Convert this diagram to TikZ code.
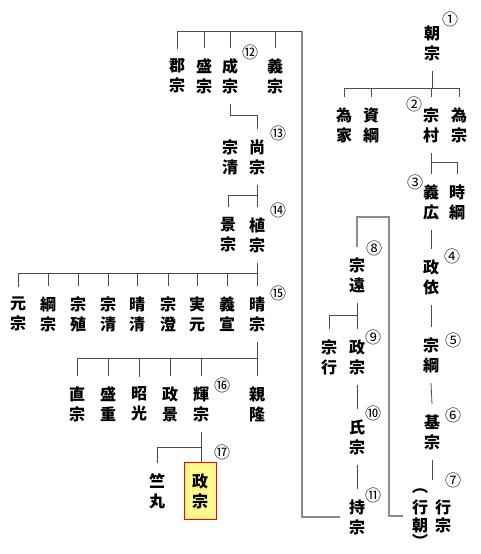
\documentclass[tikz,border=0pt]{standalone}
\usepackage{fontspec}
\newfontfamily\jpfont{Noto Sans CJK JP}

\tikzset{
  person/.style={font=\jpfont\bfseries\fontsize{16}{20}\selectfont, align=center, inner xsep=9pt, inner ysep=10pt},
  tight/.style={person, font=\jpfont\bfseries\fontsize{16}{18}\selectfont},
  num/.style={font=\jpfont\fontsize{16}{16}\selectfont, inner sep=0pt},
  link/.style={draw=black!70, line width=0.8pt},
  longlink/.style={draw=black!45, line width=1.3pt},
  chosen/.style={person, draw=red, fill=yellow!45, line width=1pt, inner xsep=8pt, inner ysep=11pt}
}

\begin{document}
\begin{tikzpicture}[x=1pt, y=-1pt]
  \useasboundingbox (0,0) rectangle (480,554);

  % main line on the right
  \node[person] (tomomune) at (432,43) {朝\\宗};
  \node[person] (tameie) at (344,125) {為\\家};
  \node[person] (suketsuna) at (371,125) {資\\綱};
  \node[person] (munemura) at (431,125) {宗\\村};
  \node[person] (tamemune) at (459,125) {為\\宗};
  \node[person] (yoshihiro) at (431,202) {義\\広};
  \node[person] (tokitsuna) at (457,202) {時\\綱};
  \node[person] (masayori) at (431,277) {政\\依};
  \node[person] (munetsuna) at (431,355) {宗\\綱};
  \node[person] (motomune) at (432,432) {基\\宗};
  \node[tight] (yukimune) at (443,516) {行\\宗};
  \node[tight] (yukitomo) at (420,516) {行\\朝};
  \node[person, inner sep=0pt] (parenA) at (420,491) {︵};
  \node[person, inner sep=0pt] (parenB) at (420,541) {︶};

  % middle line
  \node[person] (munetoo) at (357,275) {宗\\遠};
  \node[person] (masamuneA) at (357,357) {政\\宗};
  \node[person] (muneyuki) at (329,357) {宗\\行};
  \node[person] (ujimune) at (357,437) {氏\\宗};
  \node[person] (mochimune) at (357,517) {持\\宗};

  % left side
  \node[person] (korimune) at (177,76) {郡\\宗};
  \node[person] (morimune) at (204,76) {盛\\宗};
  \node[person] (shigemune) at (230,76) {成\\宗};
  \node[person] (yoshimune) at (275,76) {義\\宗};
  \node[person] (munekiyo) at (230,157) {宗\\清};
  \node[person] (hisamune) at (257,157) {尚\\宗};
  \node[person] (kagemune) at (228,235) {景\\宗};
  \node[person] (tanemune) at (257,235) {植\\宗};

  \node[person] (motomuneB) at (18,314) {元\\宗};
  \node[person] (tsunamune) at (48,314) {綱\\宗};
  \node[person] (muneue) at (78,314) {宗\\殖};
  \node[person] (munekiyoB) at (108,314) {宗\\清};
  \node[person] (harukiyo) at (137,314) {晴\\清};
  \node[person] (munezumi) at (168,314) {宗\\澄};
  \node[person] (sanemoto) at (197,314) {実\\元};
  \node[person] (yoshinobu) at (227,314) {義\\宣};
  \node[person] (harumune) at (257,314) {晴\\宗};

  \node[person] (tadamune) at (77,404) {直\\宗};
  \node[person] (morishige) at (108,404) {盛\\重};
  \node[person] (akimitsu) at (139,404) {昭\\光};
  \node[person] (masakage) at (170,404) {政\\景};
  \node[person] (terumune) at (201,404) {輝\\宗};
  \node[person] (chikataka) at (257,404) {親\\隆};

  \node[person] (jikumaru) at (157,491) {竺\\丸};
  \node[chosen] (masamune) at (200,491) {政\\宗};

  % numbers
  \node[num] at (450,19) {①};
  \node[num] at (414,104) {②};
  \node[num] at (415,182) {③};
  \node[num] at (452,256) {④};
  \node[num] at (453,340) {⑤};
  \node[num] at (453,415) {⑥};
  \node[num] at (453,480) {⑦};
  \node[num] at (374,248) {⑧};
  \node[num] at (373,337) {⑨};
  \node[num] at (373,413) {⑩};
  \node[num] at (373,495) {⑪};
  \node[num] at (250,52) {⑫};
  \node[num] at (278,133) {⑬};
  \node[num] at (278,210) {⑭};
  \node[num] at (278,293) {⑮};
  \node[num] at (222,385) {⑯};
  \node[num] at (222,452) {⑰};

  % connectors, right
  \draw[link] (tomomune.south) -- (tomomune.south |- 0,88);
  \draw[link] (tameie.north) |- (tamemune.north |- 0,88) -- (tamemune.north);
  \foreach \c in {suketsuna,munemura}
    \draw[link] (\c.north) -- (\c.north |- 0,88);
  \draw[link] (munemura.south) -- (yoshihiro.north);
  \draw[link] (munemura.south |- 0,162) -| (tokitsuna.north);
  \draw[link] (yoshihiro.south) -- (masayori.north);
  \draw[link] (masayori.south) -- (munetsuna.north);
  \draw[link] (munetsuna.south) -- (motomune.north);
  \draw[link] (motomune.south) -- ([yshift=9pt]yukimune.north -| motomune.south);

  % connectors, middle
  \draw[longlink] (yukitomo.west) -| (389,217) -| (munetoo.north);
  \draw[link] (munetoo.south) -- (masamuneA.north);
  \draw[link] (munetoo.south |- 0,315) -| (muneyuki.north);
  \draw[link] (masamuneA.south) -- (ujimune.north);
  \draw[link] (ujimune.south) -- (mochimune.north);

  % connectors, left
  \draw[longlink] (mochimune.west) -| (302,31);
  \draw[link] (302,31) -| (korimune.north);
  \foreach \c in {morimune,shigemune,yoshimune}
    \draw[link] (\c.north) -- (\c.north |- 0,31);
  \draw[link] (shigemune.south) |- (hisamune.north |- 0,115) -- (hisamune.north);
  \draw[link] (hisamune.south) -- (tanemune.north);
  \draw[link] (hisamune.south |- 0,195) -| (kagemune.north);
  \draw[link] (tanemune.south) -- (harumune.north);
  \draw[link] (tanemune.south |- 0,273) -| (motomuneB.north);
  \foreach \c in {tsunamune,muneue,munekiyoB,harukiyo,munezumi,sanemoto,yoshinobu}
    \draw[link] (\c.north) -- (\c.north |- 0,273);
  \draw[link] (harumune.south) -- (chikataka.north);
  \draw[link] (harumune.south |- 0,358) -| (tadamune.north);
  \foreach \c in {morishige,akimitsu,masakage,terumune}
    \draw[link] (\c.north) -- (\c.north |- 0,358);
  \draw[link] (terumune.south) -- (masamune.north -| terumune.south);
  \draw[link] (terumune.south |- 0,447) -| (jikumaru.north);
\end{tikzpicture}
\end{document}
